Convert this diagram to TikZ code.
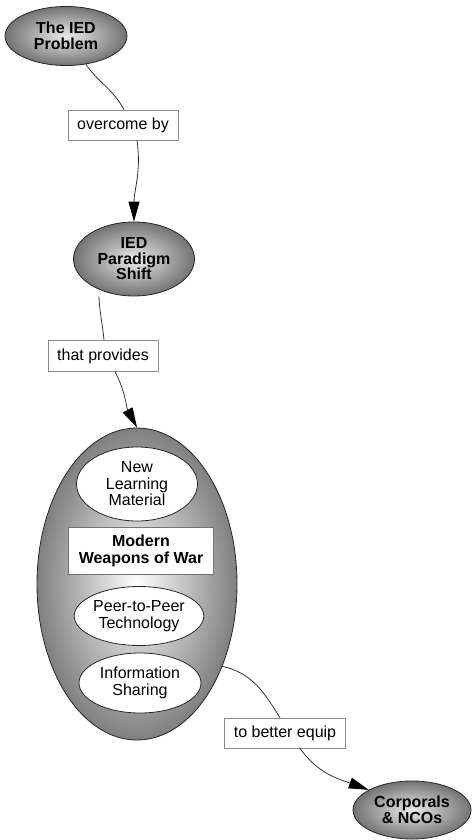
\documentclass[tikz,border=0pt]{standalone}
\usepackage{fontspec}
\setmainfont{Liberation Sans}
\usetikzlibrary{shapes.geometric,arrows.meta}
\begin{document}
\begin{tikzpicture}[x=1pt,y=-1pt,
  outer/.style={ellipse, draw=black!85, line width=0.8pt, inner sep=0pt,
    inner color=black!8, outer color=black!55, align=center,
    font=\bfseries\fontsize{16}{15.5}\selectfont},
  big/.style={ellipse, draw=black!85, line width=0.8pt, inner sep=0pt,
    inner color=white, outer color=black!50},
  inner/.style={ellipse, draw=black!85, line width=0.8pt, fill=white, inner sep=0pt,
    align=center, font=\fontsize{16}{16.5}\selectfont},
  lbl/.style={draw=black!45, line width=0.6pt, fill=white, inner sep=0pt,
    align=center, font=\fontsize{16}{16}\selectfont},
  conn/.style={draw=black!80, line width=0.8pt},
  tip/.style={-{Triangle[length=20pt,width=11pt,color=black]}}
]
\useasboundingbox (0,0) rectangle (472,840);

\node[outer, minimum width=122pt, minimum height=59pt] (ied) at (66,36) {The IED\\Problem};
\node[outer, minimum width=121pt, minimum height=74pt] (shift) at (134,259) {IED\\Paradigm\\Shift};
\node[big, minimum width=200pt, minimum height=312pt] (mw) at (137,584) {};
\node[outer, minimum width=118pt, minimum height=58pt] (nco) at (412,810) {Corporals\\\& NCOs};

\node[inner, minimum width=121pt, minimum height=74pt] (nlm) at (137,484) {New\\Learning\\Material};
\node[lbl, draw=black!55, minimum width=145pt, minimum height=47pt,
  font=\bfseries\fontsize{16}{16.5}\selectfont] (mwt) at (141,551) {Modern\\Weapons of War};
\node[inner, minimum width=127pt, minimum height=59pt] (p2p) at (139,616) {Peer-to-Peer\\Technology};
\node[inner, minimum width=122pt, minimum height=60pt] (info) at (140,683) {Information\\Sharing};

\node[lbl, minimum width=110pt, minimum height=30pt] (l1) at (123,125) {overcome by};
\node[lbl, minimum width=110pt, minimum height=31pt] (l2) at (103,356) {that provides};
\node[lbl, minimum width=121pt, minimum height=30pt] (l3) at (285,733) {to better equip};

\draw[conn] (ied.-55) to[out=-55,in=118] ([xshift=1pt]l1.north);
\draw[conn,tip] ([xshift=14pt]l1.south) to[out=-82,in=90] (shift.north);
\draw[conn] ([xshift=-35pt]shift.south) to[out=-88,in=95] ([xshift=1pt]l2.north);
\draw[conn,tip] ([xshift=12pt]l2.south) to[out=-62,in=118] (mw.north);
\draw[conn] (mw.-44) to[out=-12,in=122] ([xshift=-5pt]l3.north);
\draw[conn,tip] ([xshift=15pt]l3.south) to[out=-55,in=160] (nco.155);
\end{tikzpicture}
\end{document}
